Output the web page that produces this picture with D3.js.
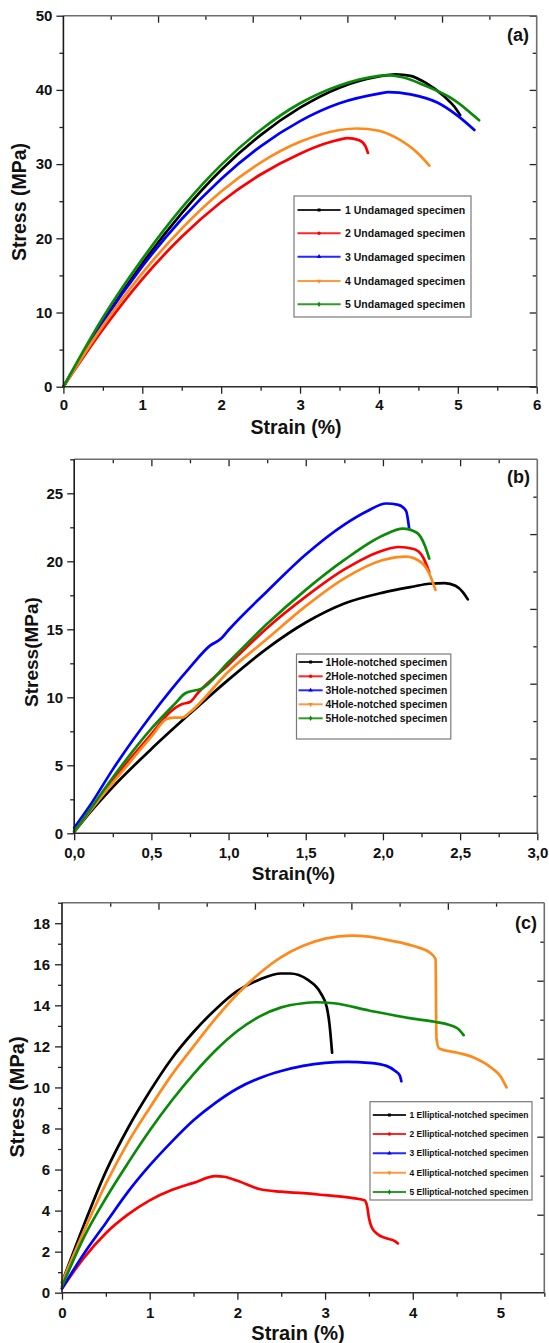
<!DOCTYPE html>
<html>
<head>
<meta charset="utf-8">
<script src="https://cdn.jsdelivr.net/npm/d3@7"></script>
<style>
  body { margin: 0; background: #fff; }
  svg { display: block; }
  text { font-family: "Liberation Sans", Arial, sans-serif; font-weight: bold; fill: #111; }
</style>
</head>
<body>
<svg id="chart" width="549" height="1343"></svg>
<script>
// ---------- (a) undamaged specimens: [strain %, stress MPa] ----------
const undamaged1 = [[0,0],[0.5,8.8],[1,16.6],[1.5,23.4],[2,29.2],[2.5,33.9],[3,37.6],[3.5,40.3],[4,41.8],[4.21,42.1],[4.4,41.9],[4.6,40.9],[4.83,39.1],[4.96,37.7],[5.03,36.6]];
const undamaged2 = [[0,0],[0.5,7.7],[1,14.5],[1.5,20.2],[2,24.9],[2.5,28.6],[3,31.4],[3.3,32.7],[3.5,33.3],[3.6,33.5],[3.75,33.2],[3.83,32.4],[3.86,31.5]];
const undamaged3 = [[0,0],[0.5,8.7],[1,16.2],[1.5,22.6],[2,28.0],[2.5,32.4],[3,35.8],[3.5,38.2],[4,39.5],[4.12,39.7],[4.4,39.4],[4.74,38.3],[5,36.5],[5.21,34.6]];
const undamaged4 = [[0,0],[0.5,8.2],[1,15.3],[1.5,21.3],[2,26.3],[2.5,30.2],[3,33.0],[3.5,34.6],[3.72,34.8],[4,34.5],[4.21,33.6],[4.5,31.4],[4.64,29.8]];
const undamaged5 = [[0,0],[0.5,9.3],[1,17.2],[1.5,24.1],[2,29.9],[2.5,34.6],[3,38.2],[3.5,40.6],[4,41.9],[4.1,42.0],[4.3,41.7],[4.58,40.6],[4.96,38.6],[5.27,35.9]];
const legendA = ["1 Undamaged specimen", "2 Undamaged specimen", "3 Undamaged specimen", "4 Undamaged specimen", "5 Undamaged specimen"];
const xTicksA = [0, 1, 2, 3, 4, 5, 6];
const yTicksA = [0, 10, 20, 30, 40, 50];

// ---------- (b) hole-notched specimens ----------
const hole1 = [[0,0.1],[0.1,1.5],[0.25,3.4],[0.5,6.2],[0.75,8.8],[1,11.3],[1.25,13.6],[1.5,15.5],[1.75,16.9],[2,17.7],[2.2,18.15],[2.3,18.35],[2.4,18.4],[2.47,18.2],[2.52,17.7],[2.55,17.2]];
const hole2 = [[0,0.2],[0.1,1.6],[0.25,3.9],[0.5,7.3],[0.62,8.9],[0.7,9.5],[0.75,9.65],[0.8,10.3],[1,12.4],[1.25,15.1],[1.5,17.4],[1.75,19.4],[2,20.8],[2.1,21.05],[2.2,20.9],[2.26,20.3],[2.3,19.2]];
const hole3 = [[0,0.4],[0.1,2.0],[0.25,4.7],[0.5,8.7],[0.75,12.2],[0.88,13.8],[0.95,14.3],[1,14.95],[1.25,17.8],[1.5,20.5],[1.75,22.7],[1.9,23.7],[2.02,24.25],[2.1,24.15],[2.15,23.7],[2.17,22.4]];
const hole4 = [[0,0.1],[0.1,1.6],[0.25,3.7],[0.5,7.1],[0.6,8.4],[0.65,8.5],[0.7,8.5],[0.75,8.9],[1,11.9],[1.25,14.3],[1.5,16.7],[1.75,18.75],[2,20.1],[2.15,20.35],[2.25,19.9],[2.3,19.1],[2.34,17.9]];
const hole5 = [[0,0.1],[0.1,1.7],[0.25,4.1],[0.5,7.7],[0.65,9.5],[0.72,10.3],[0.78,10.5],[0.82,10.6],[1,12.6],[1.25,15.4],[1.5,17.9],[1.75,20.1],[2,21.9],[2.13,22.4],[2.22,22.1],[2.27,21.2],[2.3,20.2]];
const legendB = ["1Hole-notched specimen", "2Hole-notched specimen", "3Hole-notched specimen", "4Hole-notched specimen", "5Hole-notched specimen"];
const xTicksB = [0, 0.5, 1, 1.5, 2, 2.5, 3];
const yTicksB = [0, 5, 10, 15, 20, 25];

// ---------- (c) elliptical-notched specimens ----------
const ellip1 = [[0,0.5],[0.25,3.3],[0.5,5.9],[0.75,8.0],[1,9.8],[1.25,11.4],[1.5,12.7],[1.75,13.8],[2,14.7],[2.25,15.25],[2.5,15.55],[2.6,15.55],[2.8,15.25],[2.95,14.6],[3.02,13.9],[3.05,13.1],[3.08,11.7]];
const ellip2 = [[0,0.2],[0.25,1.7],[0.5,2.9],[0.75,3.8],[1,4.5],[1.25,5.0],[1.5,5.35],[1.75,5.68],[1.85,5.65],[2,5.45],[2.25,5.05],[2.5,4.92],[2.75,4.85],[3,4.75],[3.3,4.62],[3.45,4.5],[3.48,4.2],[3.5,3.65],[3.53,3.2],[3.6,2.85],[3.7,2.65],[3.8,2.5],[3.83,2.4]];
const ellip3 = [[0,0.2],[0.25,1.9],[0.5,3.4],[0.75,4.9],[1,6.2],[1.25,7.35],[1.5,8.4],[1.75,9.25],[2,9.95],[2.25,10.45],[2.5,10.8],[2.75,11.05],[3,11.2],[3.25,11.25],[3.5,11.2],[3.7,11.05],[3.8,10.8],[3.85,10.6],[3.87,10.3]];
const ellip4 = [[0,0.5],[0.25,3.0],[0.5,5.3],[0.75,7.3],[1,9.0],[1.25,10.6],[1.5,12.0],[1.75,13.35],[2,14.55],[2.25,15.55],[2.5,16.35],[2.75,16.9],[3,17.25],[3.3,17.4],[3.5,17.35],[3.75,17.15],[4,16.9],[4.2,16.55],[4.26,16.25],[4.27,12.4],[4.3,11.9],[4.5,11.7],[4.7,11.45],[4.9,10.95],[5,10.55],[5.07,10.0]];
const ellip5 = [[0,0.3],[0.25,2.7],[0.5,4.6],[0.75,6.3],[1,7.9],[1.25,9.35],[1.5,10.65],[1.75,11.8],[2,12.75],[2.25,13.45],[2.5,13.9],[2.75,14.1],[2.9,14.15],[3.1,14.1],[3.5,13.75],[4,13.35],[4.25,13.2],[4.5,12.9],[4.58,12.55]];
const legendC = ["1 Elliptical-notched specimen", "2 Elliptical-notched specimen", "3 Elliptical-notched specimen", "4 Elliptical-notched specimen", "5 Elliptical-notched specimen"];
const xTicksC = [0, 1, 2, 3, 4, 5];
const yTicksC = [0, 2, 4, 6, 8, 10, 12, 14, 16, 18];

// specimen colours and legend symbols, in specimen order
const specimenColors = ["#000000", "#ff0000", "#0000ff", "#ff8a1c", "#098a09"];
const specimenSymbols = [d3.symbolSquare, d3.symbolCircle, d3.symbolTriangle, d3.symbolTriangle, d3.symbolDiamond];

const svg = d3.select("#chart");
const range = (a, b, s) => d3.range(a, b + s / 2, s);

function drawPanel(cfg) {
  const g = svg.append("g");
  const x = d3.scaleLinear().domain(cfg.xDomain).range([cfg.left, cfg.right]);
  const y = d3.scaleLinear().domain(cfg.yDomain).range([cfg.bottom, cfg.top]);
  const xTop = d3.scaleLinear().domain(cfg.topDomain).range([cfg.left, cfg.right]);
  const yRight = d3.scaleLinear().domain(cfg.rightDomain).range([cfg.bottom, cfg.top]);

  // stress-strain curves
  const line = d3.line().x(d => x(d[0])).y(d => y(d[1])).curve(d3.curveMonotoneX);
  cfg.series.forEach((s, i) => {
    g.append("path")
      .attr("d", line(s))
      .attr("fill", "none")
      .attr("stroke", specimenColors[i])
      .attr("stroke-width", 2.7)
      .attr("stroke-linejoin", "round")
      .attr("stroke-linecap", "round");
  });

  const clean = sel => { sel.select(".domain").remove(); sel.selectAll(".tick line").attr("stroke", "#222").attr("stroke-width", 1.3); };
  const labelStyle = sel => sel.selectAll(".tick text").attr("font-size", 15).attr("fill", "#111");

  // bottom axis: major + minor
  g.append("g").attr("transform", `translate(0,${cfg.bottom})`)
    .call(d3.axisBottom(x).tickValues(cfg.xTicks).tickSize(7).tickPadding(cfg.xPad).tickFormat(cfg.xFormat))
    .call(clean).call(labelStyle);
  g.append("g").attr("transform", `translate(0,${cfg.bottom})`)
    .call(d3.axisBottom(x).tickValues(cfg.xMinor).tickSize(4).tickFormat(""))
    .call(clean);
  // left axis
  g.append("g").attr("transform", `translate(${cfg.left},0)`)
    .call(d3.axisLeft(y).tickValues(cfg.yTicks).tickSize(7).tickPadding(cfg.yPad).tickFormat(d3.format("d")))
    .call(clean).call(labelStyle);
  g.append("g").attr("transform", `translate(${cfg.left},0)`)
    .call(d3.axisLeft(y).tickValues(cfg.yMinor).tickSize(4).tickFormat(""))
    .call(clean);
  // top axis (inward ticks)
  g.append("g").attr("transform", `translate(0,${cfg.top})`)
    .call(d3.axisTop(xTop).tickValues(cfg.topMajor).tickSize(-7).tickFormat(""))
    .call(clean);
  g.append("g").attr("transform", `translate(0,${cfg.top})`)
    .call(d3.axisTop(xTop).tickValues(cfg.topMinor).tickSize(-4).tickFormat(""))
    .call(clean);
  // right axis (inward ticks)
  g.append("g").attr("transform", `translate(${cfg.right},0)`)
    .call(d3.axisRight(yRight).tickValues(cfg.rightMajor).tickSize(-7).tickFormat(""))
    .call(clean);
  g.append("g").attr("transform", `translate(${cfg.right},0)`)
    .call(d3.axisRight(yRight).tickValues(cfg.rightMinor).tickSize(-4).tickFormat(""))
    .call(clean);

  // frame
  g.append("line").attr("x1", cfg.left).attr("x2", cfg.right).attr("y1", cfg.top).attr("y2", cfg.top)
    .attr("stroke", "#6e6e6e").attr("stroke-width", 1.6);
  g.append("line").attr("x1", cfg.right).attr("x2", cfg.right).attr("y1", cfg.top).attr("y2", cfg.bottom)
    .attr("stroke", "#6e6e6e").attr("stroke-width", 1.6);
  g.append("line").attr("x1", cfg.left).attr("x2", cfg.left).attr("y1", cfg.top).attr("y2", cfg.bottom)
    .attr("stroke", "#1a1a1a").attr("stroke-width", 1.6);
  g.append("line").attr("x1", cfg.left).attr("x2", cfg.right).attr("y1", cfg.bottom).attr("y2", cfg.bottom)
    .attr("stroke", "#2a2a2a").attr("stroke-width", 1.6);

  // axis titles
  g.append("text").attr("x", cfg.xTitle[0]).attr("y", cfg.xTitle[1])
    .attr("text-anchor", "middle").attr("font-size", cfg.titleSize).text(cfg.xLabel);
  g.append("text").attr("transform", `translate(${cfg.yTitle[0]},${cfg.yTitle[1]}) rotate(-90)`)
    .attr("text-anchor", "middle").attr("dominant-baseline", "central")
    .attr("font-size", cfg.titleSize).text(cfg.yLabel);

  // panel letter
  g.append("text").attr("x", cfg.letterPos[0]).attr("y", cfg.letterPos[1])
    .attr("text-anchor", "end").attr("font-size", 18).text(cfg.letter);

  // legend
  const L = cfg.legend;
  g.append("rect").attr("x", L.x).attr("y", L.y).attr("width", L.w).attr("height", L.h)
    .attr("fill", "#fff").attr("stroke", "#7a7a7a").attr("stroke-width", 1.2);
  cfg.labels.forEach((lab, i) => {
    const yy = L.rows[i];
    g.append("line").attr("x1", L.lineX[0]).attr("x2", L.lineX[1]).attr("y1", yy).attr("y2", yy)
      .attr("stroke", specimenColors[i]).attr("stroke-width", 2).attr("stroke-opacity", 0.85);
    g.append("path")
      .attr("d", d3.symbol().type(specimenSymbols[i]).size(9)())
      .attr("transform", `translate(${(L.lineX[0] + L.lineX[1]) / 2},${yy}) rotate(${i === 3 ? 180 : 0})`)
      .attr("fill", specimenColors[i]);
    const t = g.append("text").attr("x", L.textX).attr("y", yy)
      .attr("dominant-baseline", "central").attr("font-size", L.fontSize).attr("fill", "#1a1a1a").text(lab);
    if (L.textLength) t.attr("textLength", L.textLength).attr("lengthAdjust", "spacingAndGlyphs");
  });
}

const commaFmt = d => d3.format(".1f")(d).replace(".", ",");

drawPanel({
  left: 63.4, right: 536.7, top: 15.7, bottom: 386.7,
  xDomain: [0, 6], yDomain: [0, 50], topDomain: [0, 5], rightDomain: [0, 50],
  xTicks: xTicksA, xMinor: range(0.5, 5.5, 1), xFormat: d3.format("d"), xPad: 6,
  yTicks: yTicksA, yMinor: range(5, 45, 10), yPad: 4,
  topMajor: range(1, 4, 1), topMinor: range(0.5, 4.5, 1),
  rightMajor: yTicksA, rightMinor: range(5, 45, 10),
  series: [undamaged1, undamaged2, undamaged3, undamaged4, undamaged5],
  labels: legendA,
  xLabel: "Strain (%)", yLabel: "Stress (MPa)", titleSize: 19.5,
  xTitle: [296, 434], yTitle: [18.5, 202],
  letter: "(a)", letterPos: [529, 41],
  legend: { x: 294, y: 196, w: 177, h: 121, rows: [210, 233.3, 256.7, 281, 304.3],
            lineX: [297.5, 340.6], textX: 345, fontSize: 10.5 }
});

drawPanel({
  left: 74.2, right: 537.3, top: 459.3, bottom: 833.3,
  xDomain: [0, 3], yDomain: [0, 27.5], topDomain: [0, 3], rightDomain: [0, 5],
  xTicks: xTicksB, xMinor: range(0.25, 2.75, 0.5), xFormat: commaFmt, xPad: 7,
  yTicks: yTicksB, yMinor: range(2.5, 27.5, 5), yPad: 4,
  topMajor: range(0.5, 2.5, 0.5), topMinor: range(0.25, 2.75, 0.5),
  rightMajor: range(1, 4, 1), rightMinor: range(0.5, 4.5, 1),
  series: [hole1, hole2, hole3, hole4, hole5],
  labels: legendB,
  xLabel: "Strain(%)", yLabel: "Stress(MPa)", titleSize: 19,
  xTitle: [293.5, 880], yTitle: [31, 652],
  letter: "(b)", letterPos: [530, 483],
  legend: { x: 296.5, y: 654, w: 154.3, h: 85, rows: [662, 676.3, 690.3, 704.3, 718.3],
            lineX: [298.5, 322.7], textX: 325.5, fontSize: 10.3 }
});

drawPanel({
  left: 62, right: 544.3, top: 902.7, bottom: 1292.7,
  xDomain: [0, 5.5], yDomain: [0, 19], topDomain: [0, 5], rightDomain: [0, 5],
  xTicks: xTicksC, xMinor: range(0.5, 5.5, 1), xFormat: d3.format("d"), xPad: 7.5,
  yTicks: yTicksC, yMinor: range(1, 19, 2), yPad: 5,
  topMajor: range(1, 4, 1), topMinor: range(0.5, 4.5, 1),
  rightMajor: range(1, 4, 1), rightMinor: range(0.5, 4.5, 1),
  series: [ellip1, ellip2, ellip3, ellip4, ellip5],
  labels: legendC,
  xLabel: "Strain (%)", yLabel: "Stress (MPa)", titleSize: 20,
  xTitle: [298, 1340], yTitle: [17, 1097],
  letter: "(c)", letterPos: [537, 929],
  legend: { x: 370, y: 1101.7, w: 162, h: 98.3, rows: [1115, 1134, 1153.3, 1172.7, 1192],
            lineX: [372.8, 406], textX: 409.5, fontSize: 9, textLength: 119 }
});
</script>
</body>
</html>
